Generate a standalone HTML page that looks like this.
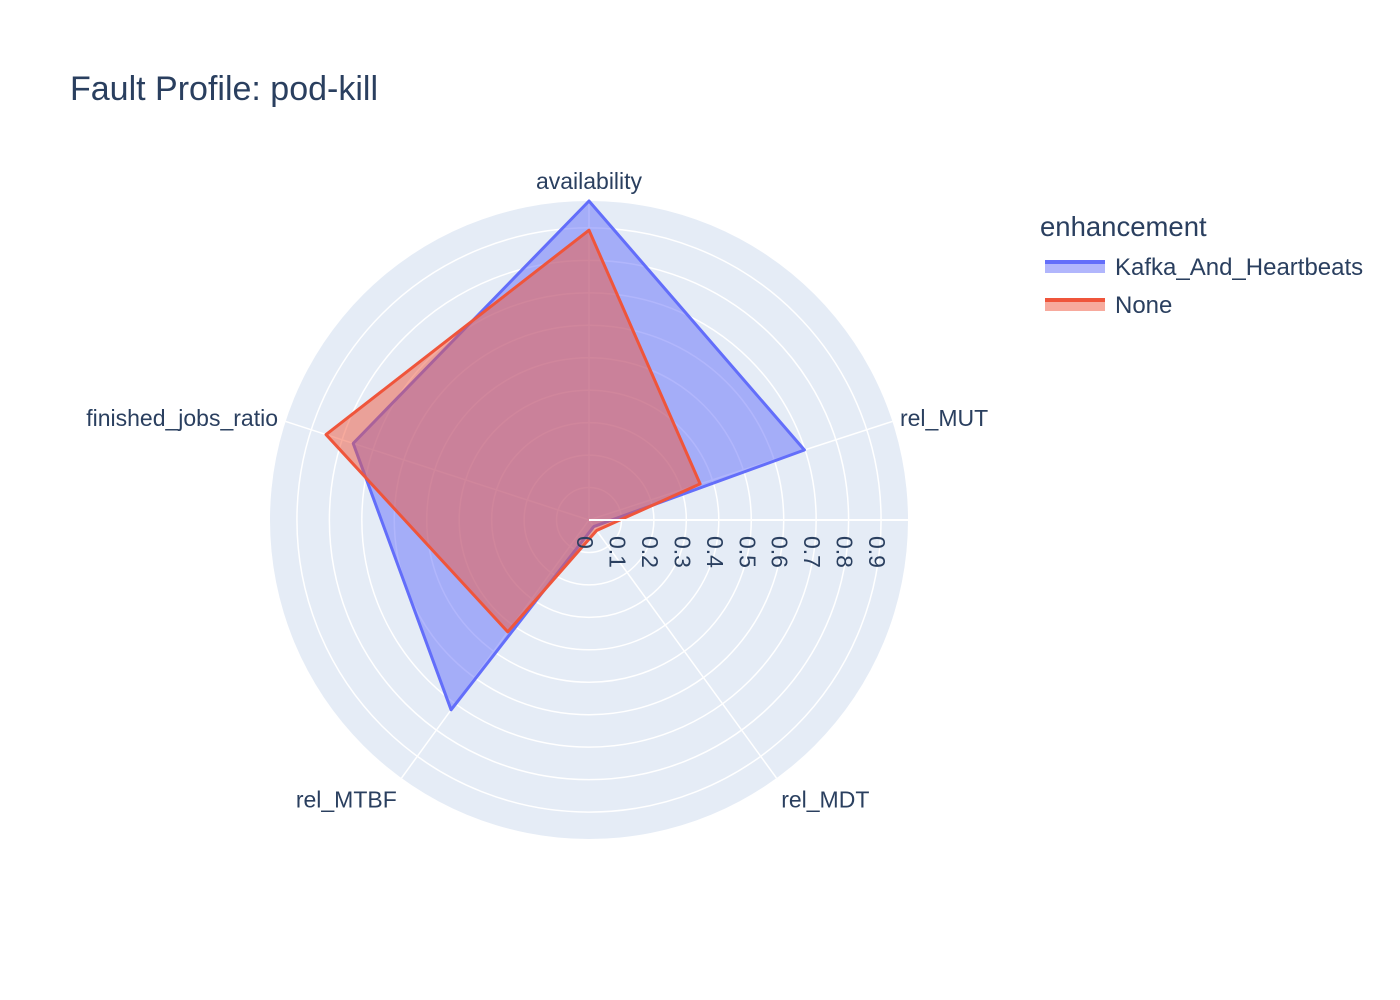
<!DOCTYPE html>
<html><head><meta charset="utf-8"><style>
body{margin:0;background:#fff;}
svg{display:block;font-family:"Liberation Sans",Arial,sans-serif;}
</style></head><body>
<svg id="chart" width="1400" height="1000">
<text x="70" y="100" font-size="34" fill="#2a3f5f">Fault Profile: pod-kill</text>
<g id="polar"></g>
<g>
<text x="1040" y="236" font-size="27.5" fill="#2a3f5f">enhancement</text>
<g>
<rect x="1045" y="260" width="60" height="13" fill="rgba(99,110,250,0.5)"/>
<line x1="1045" y1="262" x2="1105" y2="262" stroke="#636efa" stroke-width="4"/>
<text x="1115" y="275" font-size="24" fill="#2a3f5f">Kafka_And_Heartbeats</text></g>
<g>
<rect x="1045" y="298" width="60" height="13" fill="rgba(239,85,59,0.5)"/>
<line x1="1045" y1="300" x2="1105" y2="300" stroke="#ef553b" stroke-width="4"/>
<text x="1115" y="313" font-size="24" fill="#2a3f5f">None</text></g>
</g>
</svg>
<script>
const categories=["availability","rel_MUT","rel_MDT","rel_MTBF","finished_jobs_ratio"];
const kafkaValues=[0.983,0.698,0.025,0.723,0.764];
const noneValues=[0.893,0.36,0.04,0.426,0.852];
const tickLabels=["0","0.1","0.2","0.3","0.4","0.5","0.6","0.7","0.8","0.9"];
const tickValues=[0,0.1,0.2,0.3,0.4,0.5,0.6,0.7,0.8,0.9];
const cx=589,cy=520,R=319;
const rMax=Math.max(...kafkaValues,...noneValues);
const ns="http://www.w3.org/2000/svg";
const g=document.getElementById('polar');
function rs(v){return v/rMax*R;}
function ang(i){return (90-72*i)*Math.PI/180;}
function pt(i,v){const a=ang(i),r=rs(v);return [cx+r*Math.cos(a),cy-r*Math.sin(a)];}
function mk(t,attrs){const e=document.createElementNS(ns,t);for(const k in attrs)e.setAttribute(k,attrs[k]);g.appendChild(e);return e;}
let bg=mk('circle',{cx:cx,cy:cy,r:R,fill:'#e5ecf6'});


tickValues.forEach(v=>{if(v>0){const c=mk('circle',{cx:cx,cy:cy,r:rs(v),fill:'none',stroke:'#fff','stroke-width':1.5});

}});
categories.forEach((c,i)=>{const [x,y]=pt(i,rMax);const l=mk('line',{x1:cx,y1:cy,x2:x,y2:y,stroke:'#fff','stroke-width':1.5});


const a=ang(i);const lx=cx+(R+8)*Math.cos(a),ly=cy-(R+8)*Math.sin(a);
const cosA=Math.cos(a);let anchor=Math.abs(cosA)<0.2?'middle':(cosA>0?'start':'end');
let dy=Math.sin(a)>0.9?-4:(Math.sin(a)<-0.5?23:7);
const t=mk('text',{x:lx,y:ly+dy,'font-size':23,fill:'#2a3f5f','text-anchor':anchor});
t.textContent=c;

});
function series(vals,stroke,fill,name){const p=vals.map((v,i)=>pt(i,v).join(',')).join(' ');
const e=mk('polygon',{points:p,fill:fill,stroke:stroke,'stroke-width':3,'stroke-linejoin':'round'});

}
series(kafkaValues,'#636efa','rgba(99,110,250,0.5)','series-kafka-and-heartbeats');
series(noneValues,'#ef553b','rgba(239,85,59,0.5)','series-none');
const ax=mk('line',{x1:cx,y1:cy,x2:cx+R,y2:cy,stroke:'#fff','stroke-width':2});


tickValues.forEach((v,i)=>{const x=cx+rs(v)-4,y=cy+16;
const t=mk('text',{x:x,y:y,'font-size':23,fill:'#2a3f5f',transform:`rotate(90 ${x} ${y})`,'dominant-baseline':'central'});
t.textContent=tickLabels[i];

});
</script>
</body></html>
